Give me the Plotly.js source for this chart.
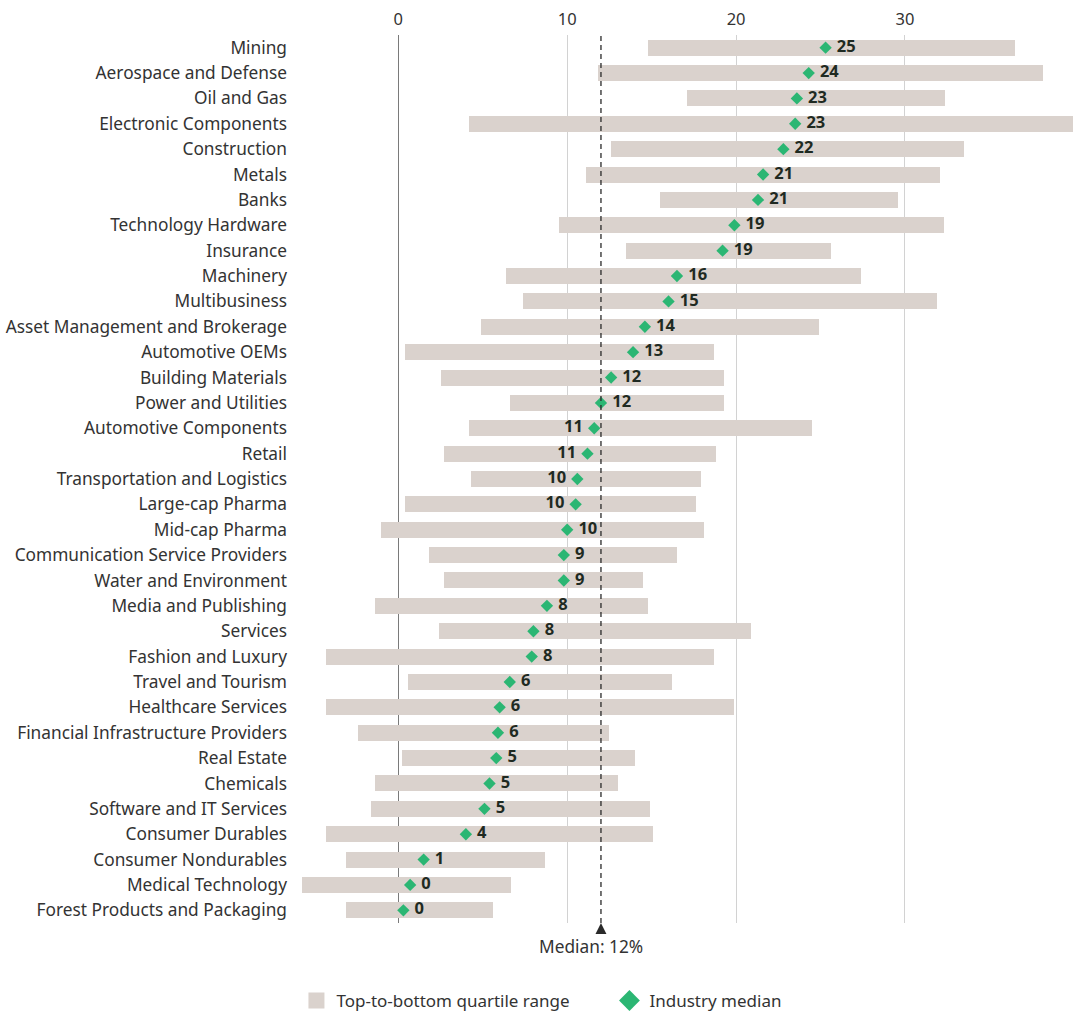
<!DOCTYPE html>
<html>
<head>
<meta charset="utf-8">
<script src="https://cdn.plot.ly/plotly-3.0.1.min.js"></script>
<style>html,body{margin:0;padding:0;background:#fff;}#chart{width:1073px;height:1015px;}</style>
</head>
<body>
<div id="chart"></div>
<script>
const industries = [
  "Mining","Aerospace and Defense","Oil and Gas","Electronic Components","Construction",
  "Metals","Banks","Technology Hardware","Insurance","Machinery",
  "Multibusiness","Asset Management and Brokerage","Automotive OEMs","Building Materials","Power and Utilities",
  "Automotive Components","Retail","Transportation and Logistics","Large-cap Pharma","Mid-cap Pharma",
  "Communication Service Providers","Water and Environment","Media and Publishing","Services","Fashion and Luxury",
  "Travel and Tourism","Healthcare Services","Financial Infrastructure Providers","Real Estate","Chemicals",
  "Software and IT Services","Consumer Durables","Consumer Nondurables","Medical Technology","Forest Products and Packaging"
];
// bottom quartile (low end of range), %
const bottomQuartile = [
  14.8, 11.8, 17.1, 4.2, 12.6,
  11.1, 15.5, 9.5, 13.5, 6.4,
  7.4, 4.9, 0.4, 2.5, 6.6,
  4.2, 2.7, 4.3, 0.4, -1.0,
  1.8, 2.7, -1.4, 2.4, -4.3,
  0.6, -4.3, -2.4, 0.2, -1.4,
  -1.6, -4.3, -3.1, -5.7, -3.1
];
// top quartile (high end of range), %
const topQuartile = [
  36.5, 38.2, 32.4, 42.0, 33.5,
  32.1, 29.6, 32.3, 25.6, 27.4,
  31.9, 24.9, 18.7, 19.3, 19.3,
  24.5, 18.8, 17.9, 17.6, 18.1,
  16.5, 14.5, 14.8, 20.9, 18.7,
  16.2, 19.9, 12.5, 14.0, 13.0,
  14.9, 15.1, 8.7, 6.7, 5.6
];
// industry median, %
const industryMedian = [
  25.3, 24.3, 23.6, 23.5, 22.8,
  21.6, 21.3, 19.9, 19.2, 16.5,
  16.0, 14.6, 13.9, 12.6, 12.0,
  11.6, 11.2, 10.6, 10.5, 10.0,
  9.8, 9.8, 8.8, 8.0, 7.9,
  6.6, 6.0, 5.9, 5.8, 5.4,
  5.1, 4.0, 1.5, 0.7, 0.3
];
const medianLabels = [
  "25","24","23","23","22",
  "21","21","19","19","16",
  "15","14","13","12","12",
  "11","11","10","10","10",
  "9","9","8","8","8",
  "6","6","6","5","5",
  "5","4","1","0","0"
];
const overallMedian = 12;
const xTicks = [0, 10, 20, 30];

// styling
const leftLabelled = ["Automotive Components","Retail","Transportation and Logistics","Large-cap Pharma"];
const barColor = "#dad2cd";
const green = "#2bb673";
const textColor = "#333333";
const FONT = "Noto Sans, Open Sans, sans-serif";

const isLeft = industries.map(n => leftLabelled.includes(n));

const traces = [
  {
    type: "bar", orientation: "h",
    y: industries,
    base: bottomQuartile,
    x: topQuartile.map((t, i) => t - bottomQuartile[i]),
    width: 0.63,
    marker: {color: barColor},
    hoverinfo: "skip",
    showlegend: false
  },
  {
    type: "scatter", mode: "markers+text",
    y: industries, x: industryMedian,
    marker: {symbol: "diamond", size: 9.5, color: green},
    text: medianLabels,
    texttemplate: isLeft.map(l => l ? "%{text} " : " %{text}"),
    textposition: isLeft.map(l => l ? "middle left" : "middle right"),
    textfont: {family: FONT, size: 16.5, color: "#1f2a22", weight: "bold"},
    cliponaxis: false,
    hoverinfo: "skip",
    showlegend: false
  },
  {
    type: "scatter", mode: "markers", x: [null], y: [null],
    name: "Top-to-bottom quartile range",
    marker: {symbol: "square", size: 22, color: barColor}
  },
  {
    type: "scatter", mode: "markers", x: [null], y: [null],
    name: "Industry median",
    marker: {symbol: "diamond", size: 22, color: green}
  }
];

const layout = {
  width: 1073, height: 1015,
  margin: {l: 298, r: 0, t: 35, b: 92, pad: 0, autoexpand: false},
  paper_bgcolor: "#ffffff", plot_bgcolor: "#ffffff",
  font: {family: FONT, color: textColor, size: 16},
  showlegend: true,
  legend: {
    orientation: "h", x: -0.002, xanchor: "left", y: -0.0878, yanchor: "middle",
    entrywidth: 268,
    font: {family: FONT, size: 17, color: textColor},
    itemclick: false, itemdoubleclick: false
  },
  xaxis: {
    side: "top",
    range: [-5.94, 39.95],
    tickvals: xTicks,
    ticktext: xTicks.map(String),
    showgrid: true, gridcolor: "#d2d2d2", gridwidth: 1,
    zeroline: true, zerolinecolor: "#7a7a7a", zerolinewidth: 1.2,
    showline: false, ticks: "",
    ticklabelstandoff: 6,
    tickfont: {family: FONT, size: 16.5, color: textColor},
    fixedrange: true
  },
  yaxis: {
    type: "category",
    range: [industries.length - 0.5, -0.5],
    showgrid: false, zeroline: false, showline: false, ticks: "",
    ticklabelstandoff: 10,
    tickfont: {family: FONT, size: 17.3, color: textColor},
    fixedrange: true
  },
  shapes: [
    {
      type: "line", xref: "x", yref: "paper",
      x0: overallMedian, x1: overallMedian, y0: 0, y1: 1,
      line: {color: "#2a2a2a", width: 1.3, dash: "5px,4px"},
      layer: "above"
    },
    {
      type: "path", xref: "x", yref: "paper",
      xsizemode: "pixel", ysizemode: "pixel",
      xanchor: overallMedian, yanchor: 0,
      path: "M0,0 L5.5,-11 L-5.5,-11 Z",
      fillcolor: "#2a2a2a", line: {width: 0},
      layer: "above"
    }
  ],
  annotations: [
    {
      xref: "x", yref: "paper", x: overallMedian, y: 0,
      xanchor: "center", yanchor: "top", yshift: -10, xshift: -10,
      text: "Median: " + overallMedian + "%",
      showarrow: false,
      font: {family: FONT, size: 17.3, color: textColor}
    }
  ],
  bargap: 0
};

Plotly.newPlot("chart", traces, layout, {displayModeBar: false, staticPlot: true});
</script>
</body>
</html>
